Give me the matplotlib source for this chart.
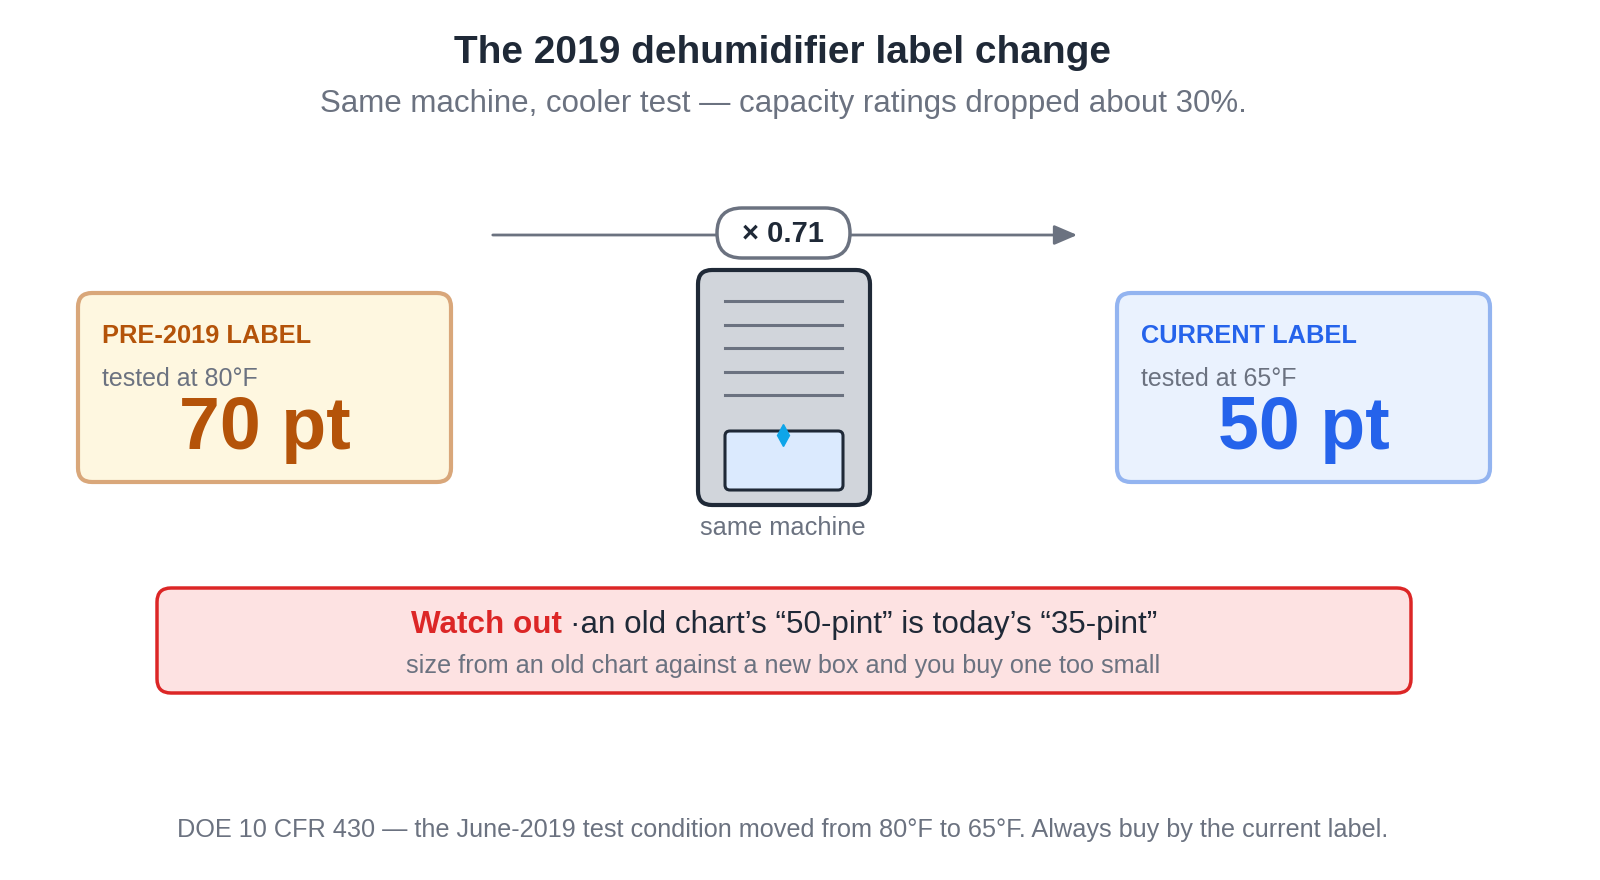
import matplotlib.pyplot as plt
from matplotlib.patches import FancyBboxPatch

plt.rcParams['font.family'] = ['Liberation Sans', 'DejaVu Sans']

# data
old_temp = "80°F"
new_temp = "65°F"
old_rating = 70
new_rating = 50
factor = 0.71

DARK = "#1f2937"
GRAY = "#6b7280"
ORANGE = "#b45309"
BLUE = "#2563eb"
RED = "#dc2626"

fig = plt.figure(figsize=(16, 8.8), dpi=100)
ax = fig.add_axes([0, 0, 1, 1])
ax.set_xlim(0, 1600)
ax.set_ylim(880, 0)
ax.axis("off")


def rbox(x0, y0, x1, y1, fc, ec, lw=3, r=14, z=1):
    ax.add_patch(FancyBboxPatch((x0, y0), x1 - x0, y1 - y0,
                                boxstyle=f"round,pad=0,rounding_size={r}",
                                fc=fc, ec=ec, lw=lw, zorder=z))


ax.text(783, 53, "The 2019 dehumidifier label change", ha="center", va="center",
        fontsize=28, fontweight="bold", color=DARK)
ax.text(783, 104, "Same machine, cooler test — capacity ratings dropped about 30%.",
        ha="center", va="center", fontsize=22.5, color=GRAY)

# arrow with multiplier pill
ax.annotate("", xy=(1080, 235), xytext=(490, 235),
            arrowprops=dict(arrowstyle="-|>,head_length=1.4,head_width=0.6",
                            color=GRAY, lw=2))
rbox(717, 208, 850, 258, "white", GRAY, lw=2.5, r=25, z=3)
ax.text(783, 234, f"× {factor:.2f}", ha="center", va="center", fontsize=21,
        fontweight="bold", color=DARK, zorder=4)

# machine
rbox(698, 270, 870, 505, "#d1d5db", DARK, lw=3, r=14)
for y in [301, 325, 348, 372, 395]:
    ax.plot([725, 842], [y, y], color=GRAY, lw=2.2)
rbox(725, 431, 843, 490, "#dbeafe", DARK, lw=2.2, r=5, z=2)
ax.plot([783], [435], marker="d", ms=11, color="#0ea5e9", zorder=3)
ax.text(783, 528, "same machine", ha="center", va="center", fontsize=18.3, color=GRAY)

# label boxes
for x0, title, temp, val, fc, ec, col in [
        (78, "PRE-2019 LABEL", old_temp, old_rating, "#fef7e0", "#d9a77a", ORANGE),
        (1117, "CURRENT LABEL", new_temp, new_rating, "#eaf2fe", "#93b4f0", BLUE)]:
    rbox(x0, 293, x0 + 373, 482, fc, ec, lw=3, r=14)
    ax.text(x0 + 24, 336, title, ha="left", va="center", fontsize=18.3,
            fontweight="bold", color=col)
    ax.text(x0 + 24, 379, f"tested at {temp}", ha="left", va="center",
            fontsize=18, color=GRAY)
    ax.text(x0 + 187, 430, f"{val} pt", ha="center", va="center", fontsize=53,
            fontweight="bold", color=col)

# warning
rbox(157, 588, 1411, 693, "#fde2e2", RED, lw=2.5, r=14)
ax.text(562, 625, "Watch out", ha="right", va="center", fontsize=22.6,
        fontweight="bold", color=RED)
ax.text(570, 625, "·an old chart’s “50-pint” is today’s “35-pint”", ha="left",
        va="center", fontsize=22.6, color=DARK)
ax.text(783, 666, "size from an old chart against a new box and you buy one too small",
        ha="center", va="center", fontsize=18.2, color=GRAY)

ax.text(783, 830, "DOE 10 CFR 430 — the June-2019 test condition moved from 80°F to 65°F. "
        "Always buy by the current label.", ha="center", va="center",
        fontsize=18.2, color=GRAY)

fig.savefig("out.png", dpi=100)
